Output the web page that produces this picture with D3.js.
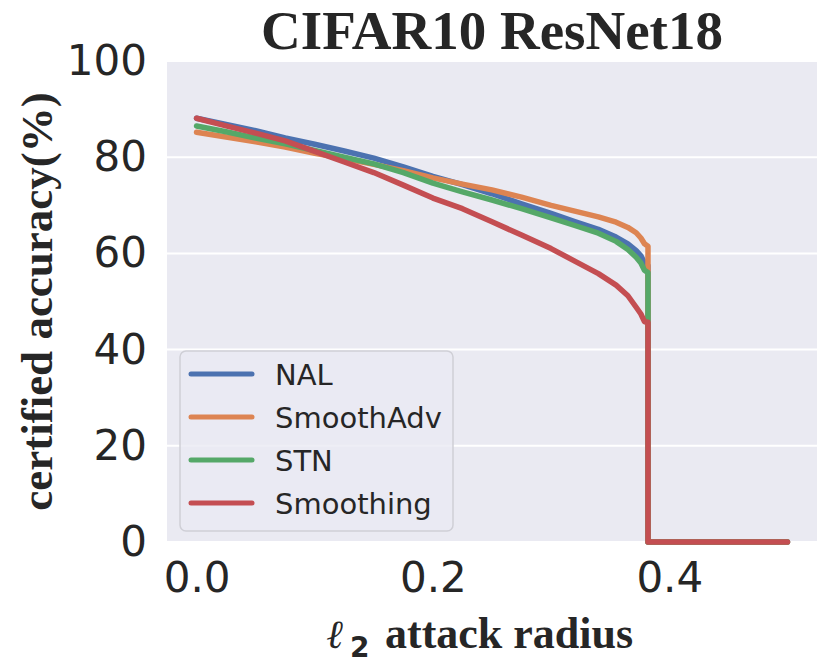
<!DOCTYPE html>
<html><head><meta charset="utf-8">
<script src="https://cdn.jsdelivr.net/npm/d3@7"></script>
<style>body{margin:0;background:#fff}svg{display:block}</style>
</head><body><svg id="c" width="831" height="672"></svg>
<script>
// ---- data ----
const radii = [0, 0.025, 0.05, 0.075, 0.1, 0.125, 0.15, 0.175, 0.2, 0.225, 0.25, 0.275, 0.3, 0.32, 0.34, 0.355, 0.365, 0.372, 0.376, 0.379, 0.382];
const nal        = [88.1, 86.8, 85.5, 84.0, 82.7, 81.3, 79.8, 78.0, 76.0, 74.3, 72.4, 70.3, 68.3, 66.6, 65.0, 63.4, 62.0, 60.6, 59.5, 58.0, 57.5];
const smoothAdv  = [85.2, 84.2, 83.2, 82.1, 80.8, 79.7, 78.5, 77.2, 75.7, 74.4, 73.2, 71.7, 70.0, 68.8, 67.6, 66.5, 65.4, 64.3, 63.2, 62.0, 61.5];
const stn        = [86.5, 85.3, 84.0, 82.8, 81.4, 80.0, 78.6, 76.8, 74.6, 72.8, 71.1, 69.3, 67.4, 65.8, 64.2, 62.5, 60.8, 59.2, 58.0, 56.5, 56.0];
const smoothing  = [88.1, 86.5, 85.0, 83.4, 81.2, 79.0, 76.8, 74.2, 71.5, 69.3, 66.6, 63.8, 61.0, 58.4, 55.8, 53.4, 51.2, 48.8, 47.4, 45.8, 45.7];
const dropRadius = 0.382;
const maxRadius = 0.5;
const seriesNames = ["NAL", "SmoothAdv", "STN", "Smoothing"];
const seriesValues = [nal, smoothAdv, stn, smoothing];
const colors = ["#4c72b0", "#dd8452", "#55a868", "#c44e52"];
const xTicks = [0.0, 0.2, 0.4];
const yTicks = [0, 20, 40, 60, 80, 100];
const title = "CIFAR10 ResNet18";
const yLabel = "certified accuracy(%)";

// ---- layout ----
const svg = d3.select("#c");
const L = 167, R = 817, T = 61, B = 542;
const x = d3.scaleLinear().domain([-0.025, 0.525]).range([L, R]);
const y = d3.scaleLinear().domain([0, 100]).range([B, T]);
const ink = "#262626";

svg.append("rect").attr("x", L).attr("y", T).attr("width", R - L).attr("height", B - T).attr("fill", "#eaeaf2");

// grid
svg.append("g").selectAll("line").data(yTicks).join("line")
  .attr("x1", L).attr("x2", R).attr("y1", d => y(d)).attr("y2", d => y(d))
  .attr("stroke", "#fff").attr("stroke-width", 2);

// axes (labels only)
const yAxis = d3.axisLeft(y).tickValues(yTicks).tickSize(0).tickPadding(20).tickFormat(d3.format("d"));
const gy = svg.append("g").attr("transform", `translate(${L},0)`).call(yAxis);
gy.select(".domain").remove();
gy.selectAll("text").attr("font-family", "DejaVu Sans").attr("font-size", 42).attr("fill", ink);

const xAxis = d3.axisBottom(x).tickValues(xTicks).tickSize(0).tickPadding(20).tickFormat(d3.format(".1f"));
const gx = svg.append("g").attr("transform", `translate(0,${B})`).call(xAxis);
gx.select(".domain").remove();
gx.selectAll("text").attr("font-family", "DejaVu Sans").attr("font-size", 42).attr("fill", ink);

// lines
const line = d3.line().x(d => x(d[0])).y(d => y(d[1]));
seriesValues.forEach((vals, i) => {
  const pts = radii.map((r, j) => [r, vals[j]]);
  pts.push([dropRadius, 0], [maxRadius, 0]);
  svg.append("path").datum(pts).attr("d", line)
    .attr("fill", "none").attr("stroke", colors[i]).attr("stroke-width", 5.5)
    .attr("stroke-linecap", "round").attr("stroke-linejoin", "round");
});

// title
svg.append("text").attr("x", (L + R) / 2).attr("y", 49).attr("text-anchor", "middle")
  .attr("font-family", "Liberation Serif").attr("font-weight", "bold").attr("font-size", 55)
  .attr("fill", ink).text(title);

// y label
svg.append("text").attr("transform", `translate(52,${(T + B) / 2}) rotate(-90)`).attr("text-anchor", "middle")
  .attr("font-family", "Liberation Serif").attr("font-weight", "bold").attr("font-size", 45)
  .attr("fill", ink).text(yLabel);

// x label
const xl = svg.append("g").attr("fill", ink);
xl.append("text").attr("x", 327).attr("y", 648).attr("font-family", "DejaVu Serif").attr("font-style", "italic")
  .attr("font-weight", "bold").attr("font-size", 40).text("ℓ");
xl.append("text").attr("x", 350).attr("y", 657).attr("font-family", "DejaVu Sans").attr("font-weight", "bold")
  .attr("font-size", 28).text("2");
xl.append("text").attr("x", 385).attr("y", 648).attr("font-family", "Liberation Serif").attr("font-weight", "bold")
  .attr("font-size", 44).text("attack radius");

// legend
const lg = svg.append("g");
lg.append("rect").attr("x", 180).attr("y", 351).attr("width", 273).attr("height", 180).attr("rx", 6)
  .attr("fill", "#eaeaf2").attr("fill-opacity", 0.8).attr("stroke", "#cfcfd6").attr("stroke-width", 1.5);
seriesNames.forEach((n, i) => {
  const ly = 374 + i * 43;
  lg.append("line").attr("x1", 191).attr("x2", 252).attr("y1", ly).attr("y2", ly)
    .attr("stroke", colors[i]).attr("stroke-width", 5).attr("stroke-linecap", "round");
  lg.append("text").attr("x", 275).attr("y", ly + 11).attr("font-family", "DejaVu Sans").attr("font-size", 29)
    .attr("fill", ink).text(n);
});
</script></body></html>
